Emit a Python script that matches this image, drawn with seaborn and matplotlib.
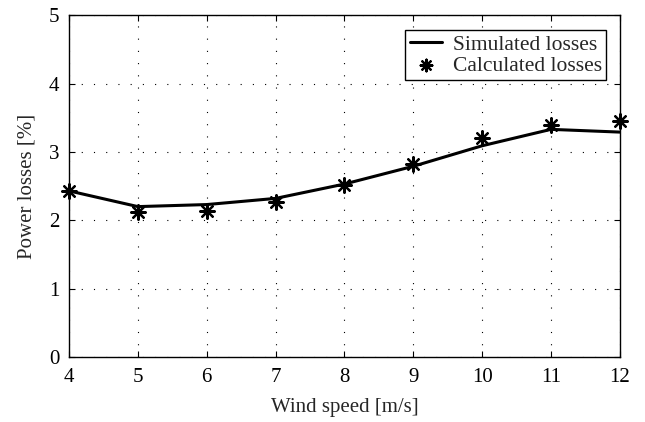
import pandas as pd
import seaborn as sns
import matplotlib.pyplot as plt

wind_speed = [4, 5, 6, 7, 8, 9, 10, 11, 12]
simulated = [2.43, 2.20, 2.23, 2.32, 2.53, 2.79, 3.09, 3.33, 3.29]
calculated = [2.43, 2.12, 2.13, 2.27, 2.52, 2.82, 3.20, 3.39, 3.45]

df = pd.DataFrame({'Wind speed': wind_speed,
                   'Simulated': simulated,
                   'Calculated': calculated})

sns.set_style('ticks')
plt.rcParams['font.family'] = ['Liberation Serif', 'DejaVu Serif']
fs = 15

fig, ax = plt.subplots(figsize=(6.45, 4.22), dpi=100)
fig.subplots_adjust(left=0.107, right=0.961, top=0.964, bottom=0.154)

sns.lineplot(data=df, x='Wind speed', y='Simulated', ax=ax, color='black',
             linewidth=2.2, label='Simulated losses')
sns.scatterplot(data=df, x='Wind speed', y='Calculated', ax=ax, color='black',
                marker=(8, 2, 0), s=110, linewidth=1.6, edgecolor='black',
                label='Calculated losses', zorder=3, clip_on=False)

ax.set_xlim(4, 12)
ax.set_ylim(0, 5)
ax.set_xticks(range(4, 13))
ax.set_yticks(range(0, 6))
ax.grid(True, linestyle=(0, (1, 10)), color='black', linewidth=0.8)
ax.tick_params(direction='in', top=True, right=True, length=4, colors='black',
               labelsize=fs)
ax.tick_params(axis='x', pad=8)
ax.tick_params(axis='y', pad=7)
for sp in ax.spines.values():
    sp.set_color('black')
    sp.set_linewidth(1.0)

ax.set_xlabel('Wind speed [m/s]', fontsize=fs, labelpad=8)
ax.set_ylabel('Power losses [%]', fontsize=fs, labelpad=9)

leg = ax.legend(loc='upper right', bbox_to_anchor=(0.975, 0.956),
                fancybox=False, edgecolor='black',
                framealpha=1, fontsize=15.5, borderaxespad=0,
                handlelength=1.5, borderpad=0.2, labelspacing=0.05,
                handletextpad=0.5, markerscale=0.8)
leg.get_frame().set_linewidth(1.0)

plt.savefig('out.png', dpi=100)
